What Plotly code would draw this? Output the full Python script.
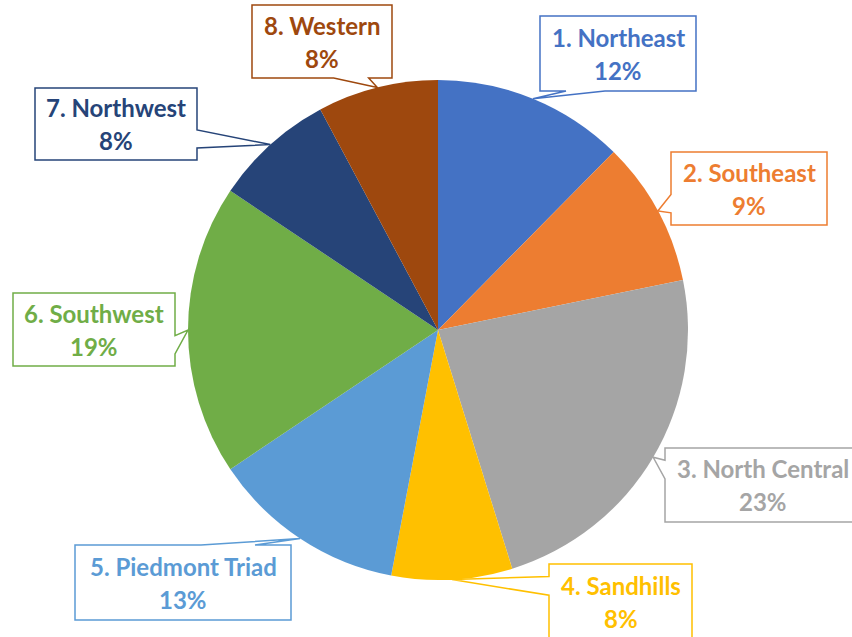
import math
import plotly.graph_objects as go

# ---- data ----
regions = ["1. Northeast", "2. Southeast", "3. North Central", "4. Sandhills",
           "5. Piedmont Triad", "6. Southwest", "7. Northwest", "8. Western"]
shares = [12.4, 9.4, 23.4, 7.8, 12.6, 18.8, 7.8, 7.8]
colors = ["#4472C4", "#ED7D31", "#A5A5A5", "#FFC000",
          "#5B9BD5", "#70AD47", "#264478", "#9E480E"]

# ---- layout (pixels) ----
W, H = 852, 637
CX, CY, R = 438, 330, 250
# callout boxes: (x0, y0, x1, y1, side of tail)
boxes = [
    (540, 16, 696, 91, "bottom"),
    (671, 152, 827, 225, "left"),
    (665, 448, 861, 522, "left"),
    (549, 564, 692, 639, "left"),
    (75, 545, 291, 620, "top"),
    (13, 293, 175, 366, "right"),
    (35, 88, 197, 160, "right"),
    (252, 5, 392, 78, "bottom"),
]
FONT = "Lato"
FSIZE = 24


def px(x, y):
    return x / W, 1 - y / H


def callout_path(x0, y0, x1, y1, side, tip):
    w, h = x1 - x0, y1 - y0
    tx, ty = tip
    if side in ("top", "bottom"):
        f = (1 / 6, 5 / 12) if tx < (x0 + x1) / 2 else (7 / 12, 5 / 6)
    else:
        f = (1 / 6, 5 / 12) if ty < (y0 + y1) / 2 else (7 / 12, 5 / 6)
    pts = [(x0, y0)]
    if side == "top":
        pts += [(x0 + w * f[0], y0), tip, (x0 + w * f[1], y0)]
    pts.append((x1, y0))
    if side == "right":
        pts += [(x1, y0 + h * f[0]), tip, (x1, y0 + h * f[1])]
    pts.append((x1, y1))
    if side == "bottom":
        pts += [(x0 + w * f[1], y1), tip, (x0 + w * f[0], y1)]
    pts.append((x0, y1))
    if side == "left":
        pts += [(x0, y0 + h * f[1]), tip, (x0, y0 + h * f[0])]
    s = ""
    for i, (x, y) in enumerate(pts):
        u, v = px(x, y)
        s += ("M" if i == 0 else "L") + f"{u:.5f},{v:.5f} "
    return s + "Z"


fig = go.Figure(go.Pie(
    labels=regions, values=shares, sort=False, direction="clockwise",
    rotation=0, textinfo="none", hoverinfo="label+percent",
    marker=dict(colors=colors, line=dict(width=0)),
    domain=dict(x=[(CX - R) / W, (CX + R) / W], y=[1 - (CY + R) / H, 1 - (CY - R) / H]),
    showlegend=False,
))

total = sum(shares)
cum = 0
shapes, annos = [], []
for name, v, c, (x0, y0, x1, y1, side) in zip(regions, shares, colors, boxes):
    mid = (cum + v / 2) / total
    cum += v
    th = 2 * math.pi * mid
    tip = (CX + R * math.sin(th), CY - R * math.cos(th))
    shapes.append(dict(type="path", xref="paper", yref="paper",
                       path=callout_path(x0, y0, x1, y1, side, tip),
                       fillcolor="white", line=dict(color=c, width=1.5), layer="above"))
    cx, cy = (x0 + x1) / 2, (y0 + y1) / 2
    pct = f"{round(100 * v / total)}%"
    for txt, yy in ((name, cy - 16.5), (pct, cy + 16.5)):
        u, vv = px(cx, yy)
        annos.append(dict(x=u, y=vv, xref="paper", yref="paper", text=f"<b>{txt}</b>",
                          showarrow=False, xanchor="center", yanchor="middle",
                          font=dict(family=FONT, size=FSIZE, color=c)))

fig.update_layout(width=W, height=H, margin=dict(l=0, r=0, t=0, b=0),
                  paper_bgcolor="white", plot_bgcolor="white",
                  shapes=shapes, annotations=annos)
fig.write_html("out.html", config={"displayModeBar": False},
               post_script="document.body.style.margin='0';document.body.style.overflow='hidden';")
